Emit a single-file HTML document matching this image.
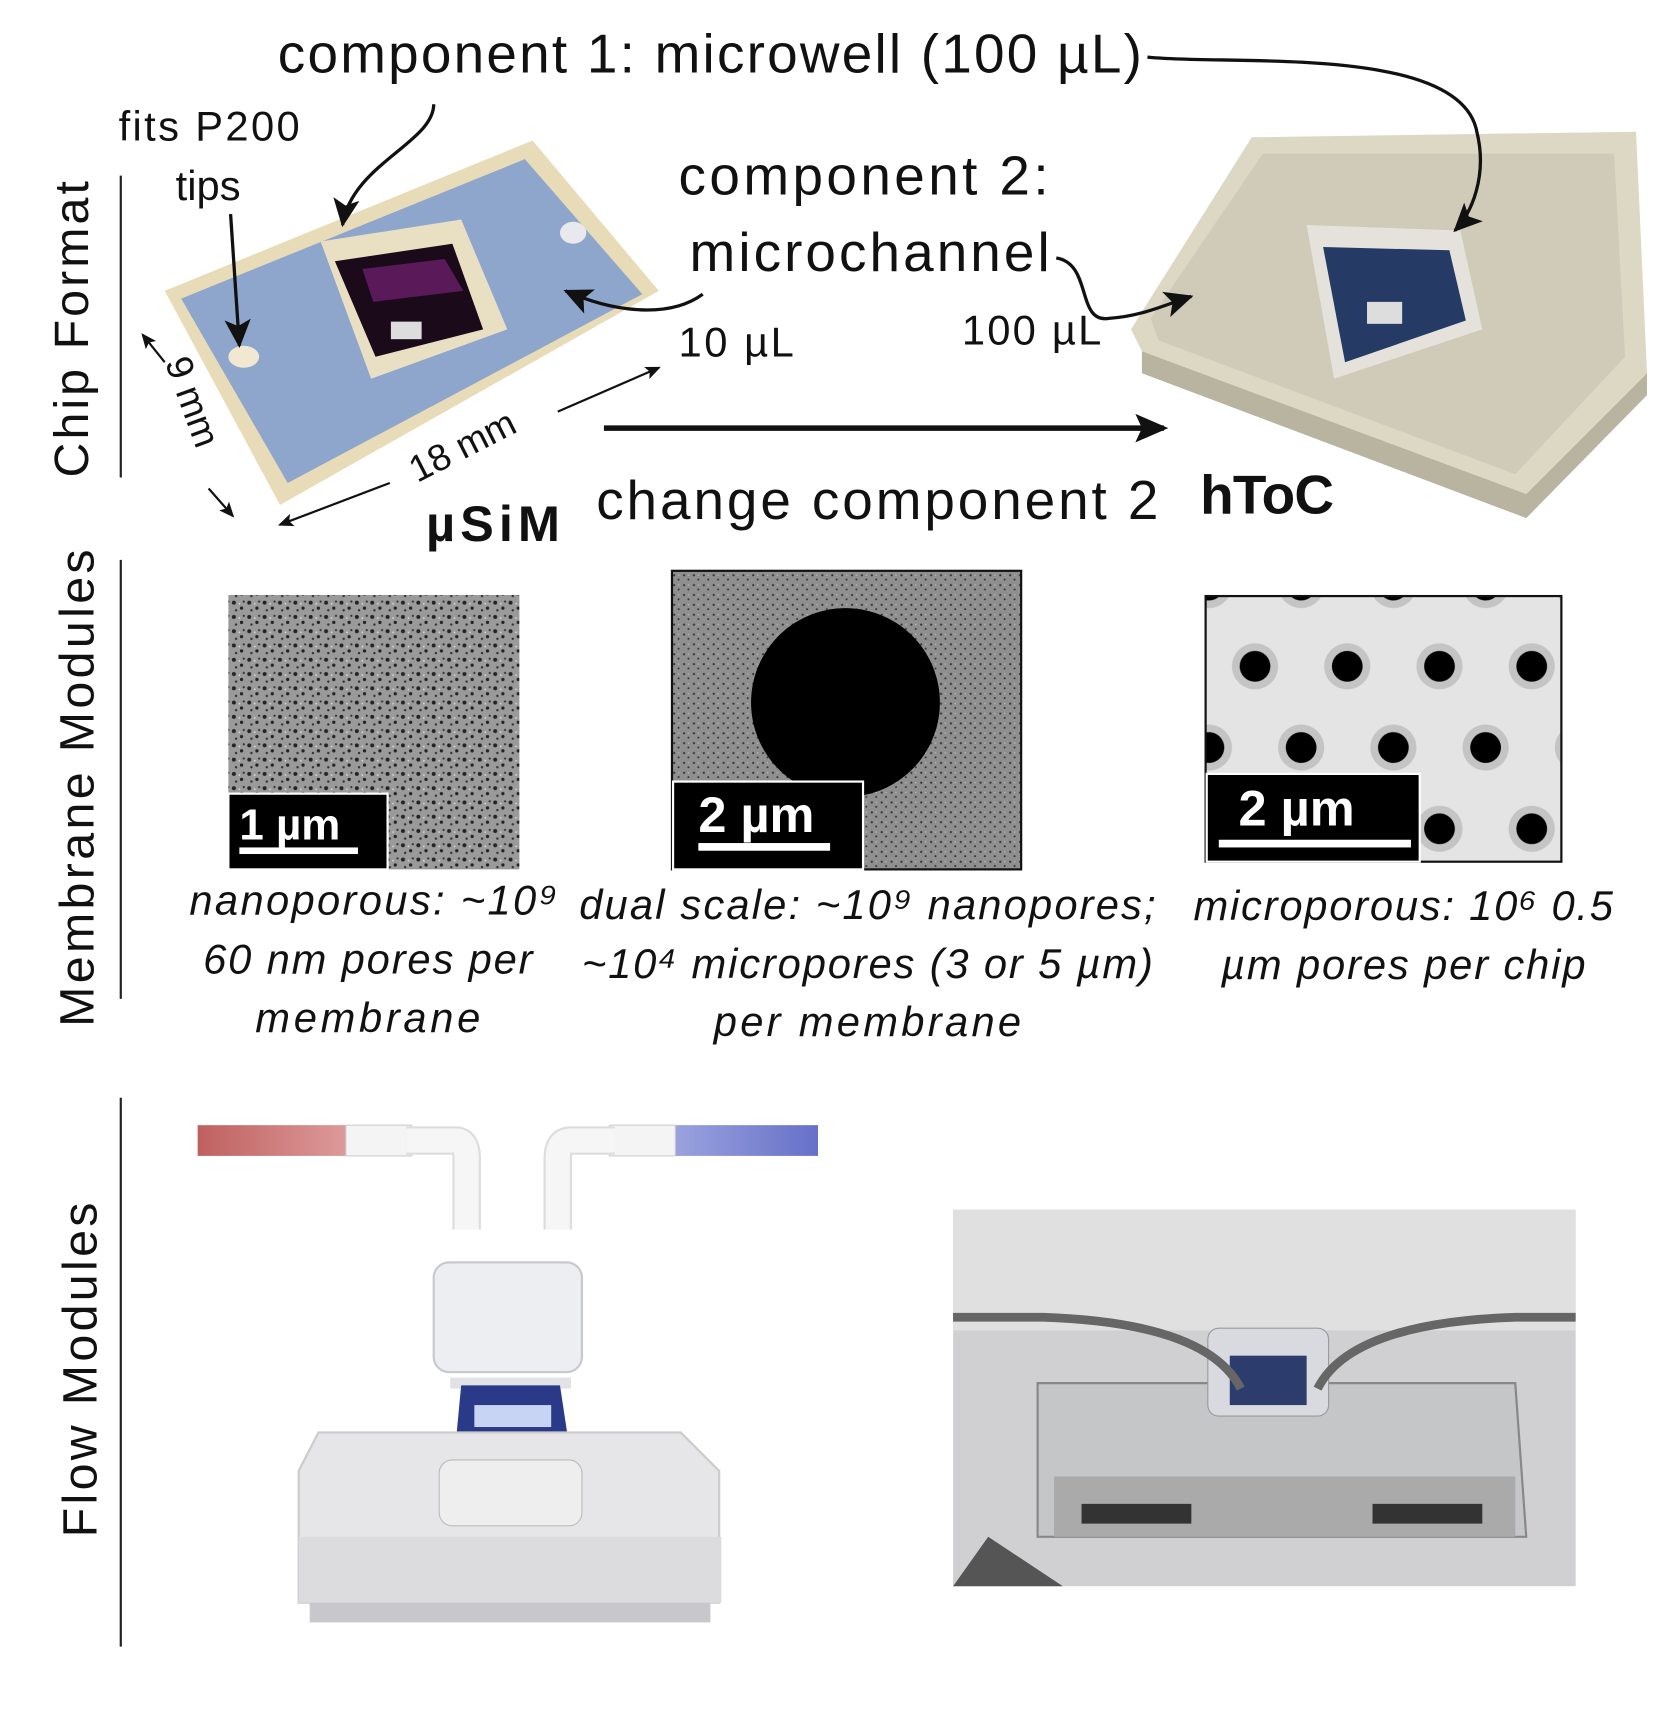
<!DOCTYPE html>
<html><head><meta charset="utf-8"><style>
html,body{margin:0;padding:0;background:#fff;}
svg{display:block;}
text{font-family:"Liberation Sans",sans-serif;fill:#111;}
</style></head><body>
<svg width="1658" height="1730" viewBox="0 0 1510 1576" preserveAspectRatio="none" xmlns="http://www.w3.org/2000/svg">
<defs>
<marker id="ah" markerWidth="14" markerHeight="14" refX="12" refY="7" orient="auto" markerUnits="userSpaceOnUse"><path d="M0,1 L14,7 L0,13 L3,7 z" fill="#111"/></marker>
<marker id="ahb" markerWidth="30" markerHeight="30" refX="26" refY="15" orient="auto" markerUnits="userSpaceOnUse"><path d="M0,2 L30,15 L0,28 L6,15 z" fill="#111"/></marker>
<marker id="ahm" markerWidth="26" markerHeight="26" refX="24" refY="13" orient="auto" markerUnits="userSpaceOnUse"><path d="M0,1 L26,13 L0,25 L6,13 z" fill="#111"/></marker>
<pattern id="nano" width="14" height="13" patternUnits="userSpaceOnUse">
<rect width="14" height="13" fill="#9a9a9a"/><circle cx="3" cy="3" r="1.8" fill="#222"/><circle cx="10" cy="8" r="1.5" fill="#222"/><circle cx="5" cy="10" r="1.1" fill="#333"/><circle cx="12" cy="2" r="1" fill="#333"/><circle cx="8" cy="4" r="0.8" fill="#ddd"/></pattern>
<pattern id="nano2" width="9" height="9" patternUnits="userSpaceOnUse">
<rect width="9" height="9" fill="#8f8f8f"/><circle cx="2" cy="2" r="1" fill="#333"/><circle cx="6" cy="6" r="0.9" fill="#333"/><circle cx="6" cy="2" r="0.6" fill="#bbb"/></pattern>
<pattern id="micro" x="1100" y="607" width="84" height="148" patternUnits="userSpaceOnUse">
<rect width="84" height="148" fill="#e4e4e4"/>
<g fill="#c4c4c4"><circle cx="43" cy="0" r="21"/><circle cx="1" cy="74" r="21"/><circle cx="85" cy="74" r="21"/><circle cx="43" cy="148" r="21"/></g>
<g fill="#000"><circle cx="43" cy="0" r="14"/><circle cx="1" cy="74" r="14"/><circle cx="85" cy="74" r="14"/><circle cx="43" cy="148" r="14"/></g></pattern>
<linearGradient id="red" x1="0" x2="1"><stop offset="0" stop-color="#c06060"/><stop offset="1" stop-color="#e0a0a0"/></linearGradient>
<linearGradient id="blue" x1="0" x2="1"><stop offset="0" stop-color="#a0a8e0"/><stop offset="1" stop-color="#6670c8"/></linearGradient>
</defs>

<line x1="110" y1="160" x2="110" y2="435" stroke="#222" stroke-width="2"/>
<line x1="110" y1="510" x2="110" y2="910" stroke="#222" stroke-width="2"/>
<line x1="110" y1="1000" x2="110" y2="1500" stroke="#222" stroke-width="2"/>
<text transform="translate(80,300) rotate(-90)" font-size="44" text-anchor="middle" textLength="270">Chip Format</text>
<text transform="translate(85,718) rotate(-90)" font-size="44" text-anchor="middle" textLength="435">Membrane Modules</text>
<text transform="translate(88,1248) rotate(-90)" font-size="44" text-anchor="middle" textLength="305">Flow Modules</text>

<!-- chip 1 photo -->
<polygon points="150,265 485,128 600,265 255,460" fill="#e8dcb8"/>
<polygon points="165,272 478,145 585,268 262,440" fill="#8fa6cc"/>
<polygon points="292,220 420,200 462,300 338,345" fill="#e9e0c4"/>
<polygon points="305,238 412,222 440,300 342,325" fill="#1a0a1a"/>
<polygon points="330,245 405,236 422,265 340,275" fill="#5a1a5a"/>
<rect x="356" y="293" width="28" height="16" fill="#ddd"/>
<ellipse cx="222" cy="325" rx="14" ry="10" fill="#f0e8d0"/>
<ellipse cx="522" cy="212" rx="12" ry="10" fill="#e8e8ee"/>

<!-- chip 2 photo -->
<polygon points="1030,300 1140,125 1490,120 1500,340 1390,450 1040,320" fill="#ddd8c4"/>
<polygon points="1048,290 1150,140 1470,140 1480,325 1380,432 1055,310" fill="#cfcbb8"/>
<polygon points="1040,320 1390,450 1500,340 1500,360 1390,472 1040,340" fill="#b8b4a0"/>
<polygon points="1190,205 1330,210 1350,300 1215,345" fill="#e4e2da"/>
<polygon points="1205,225 1320,228 1335,292 1225,330" fill="#263a66"/>
<rect x="1245" y="275" width="32" height="20" fill="#ddd"/>

<!-- chip text -->
<text x="253" y="66" font-size="50" textLength="787">component 1: microwell (100 µL)</text>
<text x="108" y="128" font-size="38" textLength="165">fits P200</text>
<text x="160" y="182" font-size="38">tips</text>
<text x="618" y="177" font-size="50" textLength="337">component 2:</text>
<text x="628" y="247" font-size="50" textLength="328">microchannel</text>
<text x="618" y="325" font-size="38" textLength="105">10 µL</text>
<text x="876" y="314" font-size="38" textLength="127">100 µL</text>
<text x="543" y="473" font-size="50" textLength="512">change component 2</text>
<text x="388" y="493" font-size="46" font-weight="bold" textLength="122">µSiM</text>
<text x="1093" y="468" font-size="50" font-weight="bold" textLength="122">hToC</text>
<text transform="translate(380,440) rotate(-27)" font-size="34">18 mm</text>
<text transform="translate(150,330) rotate(70)" font-size="34">9 mm</text>

<!-- arrows -->
<path d="M395,95 C395,130 320,150 312,205" fill="none" stroke="#111" stroke-width="3" marker-end="url(#ahm)"/>
<path d="M1045,52 C1120,60 1330,40 1345,120 C1355,160 1340,195 1325,210" fill="none" stroke="#111" stroke-width="3" marker-end="url(#ahm)"/>
<path d="M210,195 L218,315" fill="none" stroke="#111" stroke-width="3" marker-end="url(#ahm)"/>
<path d="M640,268 C610,290 560,285 515,265" fill="none" stroke="#111" stroke-width="3" marker-end="url(#ahm)"/>
<path d="M962,235 C995,240 980,295 1010,290 C1040,288 1060,278 1085,270" fill="none" stroke="#111" stroke-width="3" marker-end="url(#ahm)"/>
<line x1="550" y1="390" x2="1060" y2="390" stroke="#111" stroke-width="5" marker-end="url(#ahb)"/>
<line x1="355" y1="440" x2="255" y2="478" stroke="#111" stroke-width="2" marker-end="url(#ah)"/>
<line x1="508" y1="375" x2="600" y2="335" stroke="#111" stroke-width="2" marker-end="url(#ah)"/>
<line x1="190" y1="445" x2="212" y2="470" stroke="#111" stroke-width="2" marker-end="url(#ah)"/>
<line x1="150" y1="330" x2="130" y2="305" stroke="#111" stroke-width="2" marker-end="url(#ah)"/>

<!-- SEM 1 -->
<rect x="208" y="542" width="265" height="250" fill="url(#nano)"/>
<rect x="208" y="723" width="145" height="69" fill="#000" stroke="#fff" stroke-width="2"/>
<text x="218" y="765" font-size="40" font-weight="bold" style="fill:#fff">1 µm</text>
<rect x="218" y="772" width="108" height="6" fill="#fff"/>
<!-- SEM 2 -->
<rect x="612" y="520" width="318" height="272" fill="url(#nano2)" stroke="#111" stroke-width="2"/>
<circle cx="770" cy="640" r="86" fill="#000"/>
<rect x="613" y="712" width="173" height="80" fill="#000" stroke="#fff" stroke-width="2"/>
<text x="636" y="758" font-size="46" font-weight="bold" style="fill:#fff">2 µm</text>
<rect x="636" y="768" width="120" height="7" fill="#fff"/>
<!-- SEM 3 -->
<rect x="1098" y="543" width="324" height="242" fill="url(#micro)" stroke="#111" stroke-width="2"/>
<rect x="1099" y="705" width="194" height="80" fill="#000" stroke="#fff" stroke-width="2"/>
<text x="1128" y="752" font-size="46" font-weight="bold" style="fill:#fff">2 µm</text>
<rect x="1110" y="765" width="175" height="7" fill="#fff"/>

<!-- captions -->
<g font-size="38" font-style="italic" text-anchor="middle">
<text x="340" y="833" textLength="335">nanoporous: ~10⁹</text>
<text x="335" y="887" textLength="300">60 nm pores per</text>
<text x="335" y="940" textLength="205">membrane</text>
<text x="790" y="837" textLength="525">dual scale: ~10⁹  nanopores;</text>
<text x="790" y="891" textLength="520">~10⁴ micropores (3 or 5 µm)</text>
<text x="790" y="944" textLength="280">per membrane</text>
<text x="1278" y="838" textLength="382">microporous: 10⁶ 0.5</text>
<text x="1278" y="892" textLength="332">µm pores per chip</text>
</g>

<!-- flow render -->
<rect x="180" y="1025" width="150" height="28" fill="url(#red)"/>
<rect x="315" y="1025" width="60" height="28" fill="#f4f4f4" stroke="#ccc"/>
<path d="M370,1039 L415,1039 Q425,1039 425,1055 L425,1120" fill="none" stroke="#ddd" stroke-width="26"/>
<path d="M370,1039 L415,1039 Q425,1039 425,1055 L425,1120" fill="none" stroke="#f6f6f6" stroke-width="22"/>
<rect x="600" y="1025" width="145" height="28" fill="url(#blue)"/>
<rect x="555" y="1025" width="60" height="28" fill="#f4f4f4" stroke="#ccc"/>
<path d="M560,1039 L520,1039 Q508,1039 508,1055 L508,1120" fill="none" stroke="#ddd" stroke-width="26"/>
<path d="M560,1039 L520,1039 Q508,1039 508,1055 L508,1120" fill="none" stroke="#f6f6f6" stroke-width="22"/>
<rect x="395" y="1150" width="135" height="100" rx="14" fill="#eceef2" stroke="#c8c8d0" stroke-width="2"/>
<rect x="410" y="1255" width="110" height="10" fill="#e2e2e6"/>
<polygon points="420,1262 510,1262 518,1315 415,1315" fill="#2a3a88"/>
<rect x="432" y="1280" width="70" height="20" fill="#c8d4f4"/>
<polygon points="290,1305 620,1305 655,1340 655,1460 272,1460 272,1340" fill="#e6e6e8" stroke="#ccc" stroke-width="2"/>
<rect x="272" y="1400" width="385" height="60" fill="#dcdcde"/>
<rect x="282" y="1460" width="365" height="18" fill="#c8c8cc"/>
<rect x="400" y="1330" width="130" height="60" rx="12" fill="#eeeeee" stroke="#bbb"/>

<!-- flow photo -->
<rect x="868" y="1102" width="567" height="343" fill="#d0d0d2"/>
<rect x="868" y="1102" width="567" height="110" fill="#e0e0e0"/>
<polygon points="945,1260 1380,1260 1390,1400 945,1400" fill="#c4c6c8" stroke="#888" stroke-width="2"/>
<rect x="960" y="1345" width="420" height="55" fill="#aaa"/>
<rect x="985" y="1370" width="100" height="18" fill="#333"/>
<rect x="1250" y="1370" width="100" height="18" fill="#333"/>
<rect x="1100" y="1210" width="110" height="80" rx="10" fill="#d8dae0" stroke="#999"/>
<rect x="1120" y="1235" width="70" height="45" fill="#2c3c6c"/>
<path d="M868,1200 L950,1200 Q1100,1205 1130,1265" fill="none" stroke="#666" stroke-width="8"/>
<path d="M1435,1200 L1380,1200 Q1230,1205 1200,1265" fill="none" stroke="#666" stroke-width="8"/>
<polygon points="900,1400 968,1445 868,1445" fill="#555"/>
</svg>
</body></html>
